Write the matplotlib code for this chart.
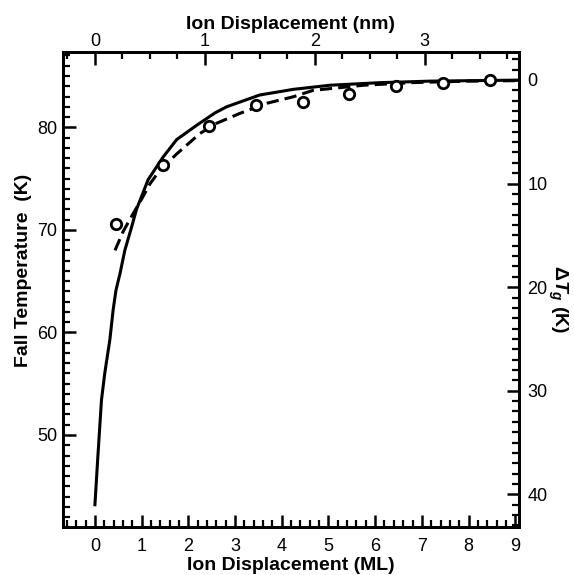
import matplotlib
matplotlib.use("Agg")
import matplotlib.pyplot as plt
from matplotlib.ticker import MultipleLocator

plt.rcParams['font.family'] = ['Liberation Sans', 'DejaVu Sans']
plt.rcParams['mathtext.fontset'] = 'custom'
plt.rcParams['mathtext.rm'] = 'Liberation Sans:bold'
plt.rcParams['mathtext.it'] = 'Liberation Sans:italic:bold'
plt.rcParams['mathtext.bf'] = 'Liberation Sans:bold'

# ---- data ----
circle_ml = [0.45, 1.45, 2.45, 3.45, 4.45, 5.45, 6.45, 7.45, 8.45]
circle_t = [70.6, 76.3, 80.1, 82.2, 82.5, 83.2, 84.0, 84.3, 84.6]

solid_ml = [0.0, 0.06, 0.14, 0.21, 0.32, 0.39, 0.45, 0.54, 0.64, 0.79, 0.89,
            1.14, 1.46, 1.75, 2.18, 2.57, 2.82, 3.53, 4.25, 5.03, 6.1, 7.17, 9.1]
solid_t = [43.2, 47.7, 53.4, 56.0, 59.3, 62.2, 64.1, 65.8, 68.0, 70.35, 72.0,
           74.9, 77.1, 78.8, 80.2, 81.4, 82.0, 83.15, 83.7, 84.1, 84.35, 84.5, 84.6]

dashed_ml = [0.43, 0.6, 0.77, 1.0, 1.18, 1.39, 1.75, 2.25, 2.61, 3.1, 3.68,
             4.25, 4.67, 5.75, 6.82, 8.0, 9.1]
dashed_t = [68.0, 69.8, 71.2, 73.0, 74.5, 75.8, 77.4, 79.4, 80.4, 81.35, 82.34,
            82.98, 83.6, 84.1, 84.36, 84.5, 84.55]

nm_per_ml = 0.425
bottom_ticks = [0, 1, 2, 3, 4, 5, 6, 7, 8, 9]
top_ticks = [0, 1, 2, 3]
left_ticks = [50, 60, 70, 80]
right_ticks = [0, 10, 20, 30, 40]

xlim = (-0.69, 9.08)
ylim = (41.0, 87.37)
ylim_right = (43.18, -2.73)

# ---- figure ----
W, H = 574, 575
fig = plt.figure(figsize=(W / 100, H / 100), dpi=100)
L, R, T, B = 62.7, 519.0, 51.7, 527.3
ax = fig.add_axes([L / W, 1 - B / H, (R - L) / W, (B - T) / H])

lw = 2.2
ax.plot(solid_ml, solid_t, color='black', lw=lw, solid_joinstyle='round')
ax.plot(dashed_ml, dashed_t, color='black', lw=lw, dashes=(4, 2),
        dash_capstyle='butt')
ax.plot(circle_ml, circle_t, linestyle='none', marker='o', ms=7.5,
        mfc='white', mec='black', mew=2.0)

ax.set_xlim(*xlim)
ax.set_ylim(*ylim)

for s in ax.spines.values():
    s.set_linewidth(2.0)

tick_font = 13
label_font = 14

ax.set_xticks(bottom_ticks)
ax.set_yticks(left_ticks)
ax.xaxis.set_minor_locator(MultipleLocator(0.2))
ax.yaxis.set_minor_locator(MultipleLocator(1))
ax.tick_params(axis='x', which='both', direction='in', top=False, bottom=True,
               labelsize=tick_font, pad=7.5)
ax.tick_params(axis='y', which='both', direction='in', right=False, left=True,
               labelsize=tick_font, pad=4)
ax.tick_params(which='major', length=9, width=1.8)
ax.tick_params(which='minor', length=5, width=1.6)

ax.set_xlabel('Ion Displacement (ML)', fontsize=label_font, fontweight='bold',
              va='top')
ax.xaxis.set_label_coords(0.5, -0.0625)
ax.set_ylabel('Fall Temperature  (K)', fontsize=label_font, fontweight='bold',
              va='center', ha='center')
ax.yaxis.label.set_rotation_mode('default')
ax.yaxis.set_label_coords(-0.087, 0.541)

# top axis (nm)
sec = ax.secondary_xaxis('top', functions=(lambda x: x * nm_per_ml,
                                           lambda x: x / nm_per_ml))
sec.set_xticks(top_ticks)
sec.xaxis.set_minor_locator(MultipleLocator(0.25))
sec.tick_params(axis='x', which='both', direction='in', labelsize=tick_font, pad=1)
sec.tick_params(which='major', length=9, width=1.8)
sec.tick_params(which='minor', length=5, width=1.6)
sec.spines['top'].set_linewidth(2.0)
# top-axis title placed explicitly above the nm tick labels
ax.set_title('Ion Displacement (nm)', fontsize=label_font, fontweight='bold',
             y=1.0467, pad=0)

# right axis (Delta Tg)
ax2 = ax.twinx()
ax2.set_ylim(*ylim_right)
ax2.set_yticks(right_ticks)
ax2.yaxis.set_minor_locator(MultipleLocator(1))
ax2.tick_params(axis='y', which='both', direction='in', labelsize=tick_font, pad=6)
ax2.tick_params(which='major', length=9, width=1.8)
ax2.tick_params(which='minor', length=5, width=1.6)
for s in ax2.spines.values():
    s.set_linewidth(2.0)
ax2.set_ylabel(r'$\Delta T_g$ (K)', fontsize=label_font, fontweight='bold',
               rotation=270, va='center', ha='center')
ax2.yaxis.label.set_rotation_mode('default')
ax2.yaxis.set_label_coords(1.0855, 0.48)

fig.savefig('out.png', dpi=100)
